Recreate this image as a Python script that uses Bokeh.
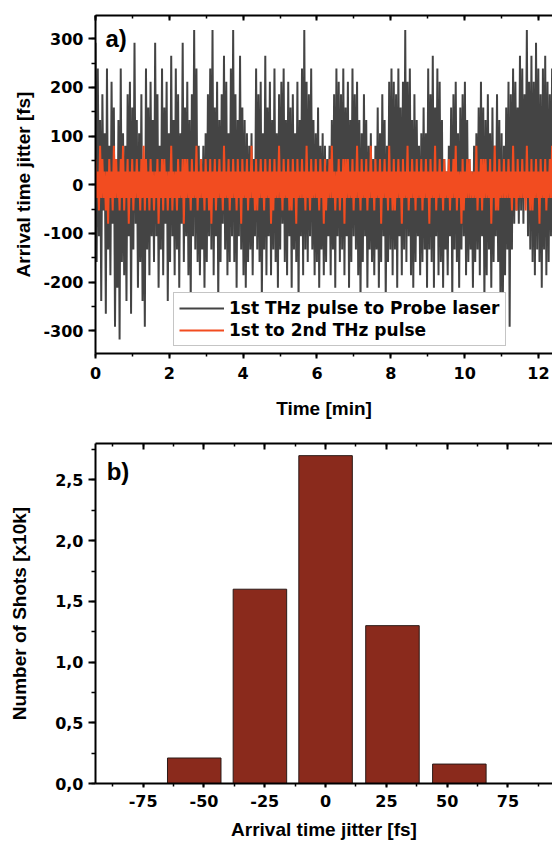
import numpy as np
from bokeh.plotting import figure
from bokeh.models import (LinearAxis, SingleIntervalTicker, Range1d, Legend, LegendItem,
                          CustomJSTickFormatter, CustomLabelingPolicy, Label, ColumnDataSource)
from bokeh.layouts import column
from bokeh.embed import file_html
from bokeh.resources import INLINE

FONT = "Liberation Sans"
TICK_FONT = "DejaVu Sans"

# ---- panel a): shot-to-shot arrival time jitter [fs] ----
jitter_probe_fs = [
    292, -159, 239, -106, 133, -239, 186, -53, 106, -265,
    239, -133, 80, -186, 212, -80, 159, -292, 53, -212,
    133, -318, 239, -159, 106, -186, 80, -239, 186, -106,
    212, -265, 159, -133, 292, -80, 133, -212, 106, -159,
    186, -239, 53, -292, 239, -133, 159, -186, 212, -106,
    133, -159, 292, -106, 186, -212, 80, -133, 239, -186,
    159, -80, 212, -239, 106, -159, 265, -106, 133, -186,
    239, -133, 186, -212, 106, -80, 292, -159, 159, -106,
    212, -186, 133, -239, 186, -106, 318, -133, 239, -159,
    80, -186, 53, -133, 80, -212, 106, -159, 186, -106,
    239, -133, 318, -186, 159, -106, 212, -239, 133, -159,
    186, -80, 265, -133, 212, -186, 106, -159, 239, -106,
    318, -159, 186, -212, 133, -106, 265, -133, 159, -186,
    133, -212, 106, -159, 80, -133, 106, -186, 53, -106,
    239, -133, 186, -159, 212, -239, 106, -133, 265, -186,
    159, -106, 212, -186, 133, -133, 239, -159, 106, -212,
    186, -133, 212, -80, 239, -159, 133, -186, 212, -106,
    159, -212, 186, -133, 106, -159, 212, -239, 133, -106,
    239, -186, 318, -133, 212, -159, 186, -106, 239, -133,
    133, -186, 106, -159, 159, -212, 80, -133, 106, -186,
    80, -159, 53, -106, 80, -186, 133, -133, 186, -212,
    239, -106, 212, -159, 186, -133, 239, -186, 159, -106,
    212, -212, 133, -159, 239, -106, 186, -133, 212, -186,
    133, -239, 106, -159, 186, -106, 133, -212, 80, -133,
    106, -159, 53, -186, 80, -133, 159, -212, 106, -159,
    186, -106, 133, -239, 80, -159, 212, -133, 239, -186,
    212, -133, 186, -212, 239, -106, 159, -186, 212, -133,
    318, -159, 212, -106, 239, -186, 133, -212, 186, -159,
    133, -106, 80, -186, 106, -159, 159, -133, 106, -212,
    239, -133, 186, -159, 265, -212, 159, -106, 239, -186,
    212, -159, 133, -212, 53, -133, 27, -186, 80, -106,
    159, -239, 186, -133, 212, -159, 106, -212, 159, -133,
    186, -106, 212, -186, 133, -159, 53, -133, 27, -212,
    80, -159, 106, -133, 159, -186, 212, -106, 159, -239,
    133, -186, 186, -133, 106, -212, 159, -159, 80, -106,
    186, -159, 133, -239, 106, -265, 80, -186, 159, -133,
    212, -292, 186, -133, 239, -80, 212, -53, 159, -80,
    265, -53, 239, -80, 186, -27, 318, -106, 212, -133,
    265, -159, 212, -186, 292, -133, 239, -159, 186, -212,
    239, -133, 265, -186, 212, -159, 186, -106, 239, -133,
]

jitter_thz_fs = [
    53, -27, 27, -53, 80, -27, 53, -27, 27, -53,
    27, -80, 53, -27, 27, -53, 80, -27, 53, -27,
    27, -53, 53, -27, 80, -53, 27, -27, 53, -80,
    27, -27, 53, -53, 27, -27, 53, -27, 27, -53,
    53, -27, 80, -53, 53, -27, 27, -53, 53, -27,
    27, -53, 27, -27, 53, -80, 27, -27, 53, -53,
    53, -27, 27, -53, 27, -27, 80, -53, 27, -27,
    27, -53, 53, -27, 27, -27, 53, -80, 53, -27,
    53, -27, 27, -53, 53, -27, 27, -27, 80, -53,
    27, -27, 53, -27, 27, -53, 53, -27, 27, -53,
    53, -80, 27, -27, 53, -53, 27, -27, 53, -27,
    27, -53, 80, -27, 27, -27, 53, -53, 27, -27,
    53, -27, 27, -53, 53, -27, 27, -80, 53, -27,
    27, -27, 53, -53, 27, -27, 80, -27, 27, -53,
    53, -53, 27, -27, 53, -27, 27, -53, 53, -27,
    27, -27, 53, -80, 27, -53, 53, -27, 27, -27,
    80, -27, 27, -53, 53, -27, 27, -27, 53, -53,
    27, -53, 53, -27, 27, -80, 53, -27, 27, -27,
    53, -27, 27, -53, 80, -27, 27, -53, 53, -27,
    27, -27, 53, -27, 27, -53, 53, -27, 27, -80,
    53, -53, 27, -27, 53, -27, 80, -27, 27, -53,
    27, -27, 53, -53, 27, -27, 53, -80, 53, -27,
    53, -27, 27, -27, 53, -53, 27, -27, 80, -27,
    27, -53, 53, -27, 27, -27, 53, -53, 27, -27,
    80, -27, 27, -53, 53, -27, 27, -27, 53, -80,
    27, -27, 53, -27, 27, -53, 80, -27, 27, -53,
    53, -53, 27, -27, 53, -27, 27, -80, 53, -27,
    27, -27, 80, -53, 27, -27, 53, -27, 27, -53,
    53, -27, 27, -27, 53, -53, 27, -27, 53, -27,
    27, -80, 53, -27, 27, -27, 80, -53, 27, -27,
    53, -27, 27, -53, 53, -27, 27, -27, 53, -53,
    27, -27, 53, -27, 80, -53, 27, -27, 27, -80,
    53, -53, 27, -27, 53, -27, 53, -27, 27, -27,
    27, -27, 80, -53, 27, -27, 53, -53, 53, -27,
    53, -27, 27, -27, 53, -80, 27, -27, 80, -53,
    27, -53, 53, -27, 27, -27, 53, -27, 27, -27,
    53, -27, 27, -53, 80, -27, 27, -53, 53, -27,
    27, -27, 53, -27, 27, -53, 80, -27, 27, -53,
    53, -53, 27, -27, 53, -27, 27, -80, 53, -27,
    27, -27, 53, -53, 27, -27, 53, -27, 80, -27,
]

record_minutes = 12.4  # length of the recording (shots evenly spaced)

# ---- panel b): histogram ----
bin_centers_fs = [-54, -27, 0, 27.5, 55]
shot_counts_x10k = [0.21, 1.60, 2.70, 1.30, 0.16]

series_a_labels = ["1st THz pulse to Probe laser", "1st to 2nd THz pulse"]

BLACK = "#444444"
ORANGE = "#F24C20"
BAR = "#8A2A1C"

HIDE_LABELS = CustomLabelingPolicy(code="""
    for (const i of Array.from(indices)) { indices.unset(i) }
    return indices
""")
INT_FMT = "return tick.toFixed(0);"
COMMA_FMT = "return tick.toFixed(1).replace('.', ',');"


def style_axis(ax):
    ax.axis_line_width = 2
    ax.axis_line_color = "black"
    ax.major_tick_line_width = 2
    ax.minor_tick_line_width = 1.5
    ax.major_tick_line_color = "black"
    ax.minor_tick_line_color = "black"
    ax.major_label_text_font = TICK_FONT
    ax.major_label_text_font_style = "bold"
    ax.major_label_text_font_size = "16px"
    ax.major_label_text_color = "black"
    ax.axis_label_text_font = FONT
    ax.axis_label_text_font_style = "bold"
    ax.axis_label_text_font_size = "19px"
    ax.axis_label_text_color = "black"


# ================= panel a =================
n = len(jitter_probe_fs)
time_min = np.linspace(0, record_minutes, n)

p1 = figure(width=552, height=428, output_backend="svg", toolbar_location=None,
            x_range=Range1d(0, 12.38), y_range=Range1d(-347, 348),
            min_border_left=94, min_border_right=0, min_border_top=14,
            min_border_bottom=75)
p1.xgrid.visible = False
p1.ygrid.visible = False
p1.outline_line_color = None

src = ColumnDataSource(dict(t=time_min, probe=jitter_probe_fs, thz=jitter_thz_fs))
r_probe = p1.line("t", "probe", source=src, line_color=BLACK, line_width=2)
r_thz = p1.line("t", "thz", source=src, line_color=ORANGE, line_width=2)

xa = p1.xaxis[0]
xa.ticker = SingleIntervalTicker(interval=2, num_minor_ticks=2)
xa.formatter = CustomJSTickFormatter(code=INT_FMT)
xa.axis_label = "Time [min]"
style_axis(xa)
xa.major_tick_out = 5
xa.major_tick_in = 0
xa.minor_tick_out = 3
xa.minor_tick_in = 0
xa.major_label_standoff = 8
xa.axis_label_standoff = 16

ya = p1.yaxis[0]
ya.ticker = SingleIntervalTicker(interval=100, num_minor_ticks=2)
ya.formatter = CustomJSTickFormatter(code=INT_FMT)
ya.axis_label = "Arrival time jitter [fs]"
style_axis(ya)
ya.major_tick_out = 7
ya.major_tick_in = 0
ya.minor_tick_out = 4
ya.minor_tick_in = 0
ya.major_label_standoff = 5
ya.axis_label_standoff = 6

top1 = LinearAxis(ticker=SingleIntervalTicker(interval=2, num_minor_ticks=2),
                  major_label_policy=HIDE_LABELS, major_label_standoff=0,
                  major_tick_in=5, major_tick_out=0, minor_tick_in=3, minor_tick_out=0)
style_axis(top1)
p1.add_layout(top1, "above")

legend = Legend(items=[LegendItem(label=series_a_labels[0], renderers=[r_probe]),
                       LegendItem(label=series_a_labels[1], renderers=[r_thz])],
                location=(78, 7), margin=0, padding=5, spacing=2,
                glyph_width=45, glyph_height=18, label_height=18, label_standoff=5,
                label_text_font=TICK_FONT, label_text_font_style="bold",
                label_text_font_size="17px", label_text_color="black",
                border_line_color="#8c8c8c", border_line_width=1,
                background_fill_color="white", background_fill_alpha=1)
p1.add_layout(legend, "center")

p1.add_layout(Label(x=0.27, y=328, text="a)", text_font=FONT, text_font_style="bold",
                    text_font_size="24px", text_baseline="top", text_color="black"))

# ================= panel b =================
p2 = figure(width=552, height=416, output_backend="svg", toolbar_location=None,
            x_range=Range1d(-94.6, 93.3), y_range=Range1d(0, 2.8),
            min_border_left=95, min_border_right=0, min_border_top=15,
            min_border_bottom=61)
p2.xgrid.visible = False
p2.ygrid.visible = False
p2.outline_line_color = None

src2 = ColumnDataSource(dict(x=bin_centers_fs, top=shot_counts_x10k))
p2.vbar(x="x", top="top", bottom=0, width=22, source=src2,
        fill_color=BAR, line_color="#2b1a17", line_width=1)

xb = p2.xaxis[0]
xb.ticker = SingleIntervalTicker(interval=25, num_minor_ticks=2)
xb.formatter = CustomJSTickFormatter(code=INT_FMT)
xb.axis_label = "Arrival time jitter [fs]"
style_axis(xb)
xb.major_tick_out = 4
xb.major_tick_in = 0
xb.minor_tick_out = 3
xb.minor_tick_in = 0
xb.major_label_standoff = 7
xb.axis_label_standoff = 9

yb = p2.yaxis[0]
yb.ticker = SingleIntervalTicker(interval=0.5, num_minor_ticks=2)
yb.formatter = CustomJSTickFormatter(code=COMMA_FMT)
yb.axis_label = "Number of Shots [x10k]"
style_axis(yb)
yb.major_tick_out = 7
yb.major_tick_in = 0
yb.minor_tick_out = 4
yb.minor_tick_in = 0
yb.major_label_standoff = 5
yb.axis_label_standoff = 22

top2 = LinearAxis(ticker=SingleIntervalTicker(interval=25, num_minor_ticks=2),
                  major_label_policy=HIDE_LABELS, major_label_standoff=0,
                  major_tick_in=6, major_tick_out=0, minor_tick_in=3, minor_tick_out=0)
style_axis(top2)
p2.add_layout(top2, "above")

p2.add_layout(Label(x=-90, y=2.68, text="b)", text_font=FONT, text_font_style="bold",
                    text_font_size="24px", text_baseline="top", text_color="black"))

layout = column(p1, p2, spacing=0)
open("out.html", "w").write(file_html(layout, INLINE))
